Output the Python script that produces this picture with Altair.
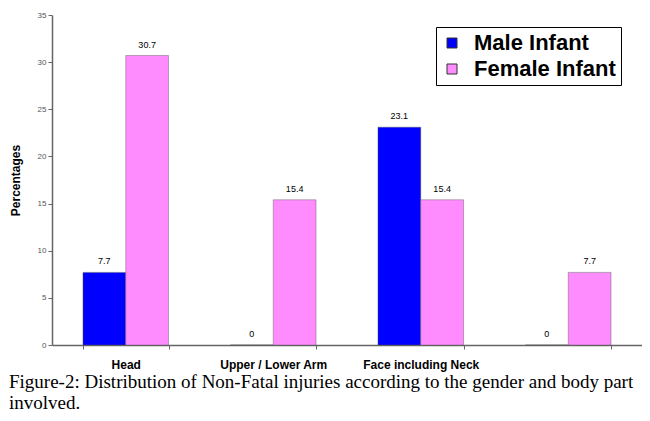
import altair as alt
import pandas as pd

categories = ["Head", "Upper / Lower Arm", "Face including Neck", " "]
series = ["Male Infant", "Female Infant"]
male = [7.7, 0, 23.1, 0]
female = [30.7, 15.4, 15.4, 7.7]
y_ticks = [0, 5, 10, 15, 20, 25, 30, 35]
colors = ["#0000FF", "#FF8CFF"]
caption = [
    "Figure-2: Distribution of Non-Fatal injuries according to the gender and body part",
    "involved.",
]

rows = []
for i, c in enumerate(categories):
    rows.append({"part": c, "gender": series[0], "value": male[i], "label": f"{male[i]:g}"})
    rows.append({"part": c, "gender": series[1], "value": female[i], "label": f"{female[i]:g}"})
df = pd.DataFrame(rows)

x = alt.X(
    "part:N",
    sort=categories,
    title=None,
    scale=alt.Scale(paddingInner=0.42, paddingOuter=0.21),
    axis=alt.Axis(
        labelAngle=0,
        labelFont="Liberation Sans",
        labelFontSize=12,
        labelFontWeight="bold",
        labelColor="#000000",
        labelPadding=10,
        tickBand="extent",
        tickSize=4,
        tickColor="#666666",
        domainColor="#666666",
        domainWidth=1.5,
    ),
)
xo = alt.XOffset("gender:N", sort=series, scale=alt.Scale(domain=series))
y = alt.Y(
    "value:Q",
    title="Percentages",
    scale=alt.Scale(domain=[0, 35]),
    axis=alt.Axis(
        values=y_ticks,
        grid=False,
        labelFont="Liberation Sans",
        labelFontSize=8,
        labelColor="#555555",
        tickSize=4,
        tickColor="#666666",
        domainColor="#666666",
        domainWidth=1.5,
        titleFont="Liberation Sans",
        titleFontSize=12,
        titleFontWeight="bold",
        titleColor="#000000",
        titlePadding=15,
    ),
)

bars = alt.Chart(df).mark_bar(stroke="#555555", strokeWidth=0.6, strokeOpacity=0.7).encode(
    x=x,
    xOffset=xo,
    y=y,
    color=alt.Color(
        "gender:N",
        sort=series,
        scale=alt.Scale(domain=series, range=colors),
        legend=alt.Legend(
            title=None,
            orient="none",
            legendX=384,
            legendY=12,
            symbolType="square",
            symbolSize=100,
            symbolStrokeColor="#333333",
            symbolStrokeWidth=1,
            labelFont="Liberation Sans",
            labelFontSize=22,
            labelFontWeight="bold",
            labelColor="#000000",
            labelOffset=11,
            rowPadding=4,
            padding=5,
            strokeColor="#000000",
            fillColor="#FFFFFF",
            labelLimit=300,
        ),
    ),
)

labels = alt.Chart(df).mark_text(
    dy=-6, font="Liberation Sans", fontSize=9, color="#000000", baseline="bottom"
).encode(x=x, xOffset=xo, y=y, text="label:N")

chart = (
    alt.layer(bars, labels)
    .properties(
        width=590,
        height=330,
        autosize=alt.AutoSizeParams(type="none"),
        padding={"left": 44, "top": 7, "right": 0, "bottom": 68},
        title=alt.TitleParams(
            text=caption,
            orient="bottom",
            anchor="start",
            frame="group",
            font="Liberation Serif",
            fontSize=19,
            fontWeight="normal",
            color="#000000",
            lineHeight=21,
            offset=3,
            dx=-43,
        ),
    )
    .configure_view(stroke=None)
)

chart.save("out.html", embed_options={"renderer": "svg", "actions": False})
